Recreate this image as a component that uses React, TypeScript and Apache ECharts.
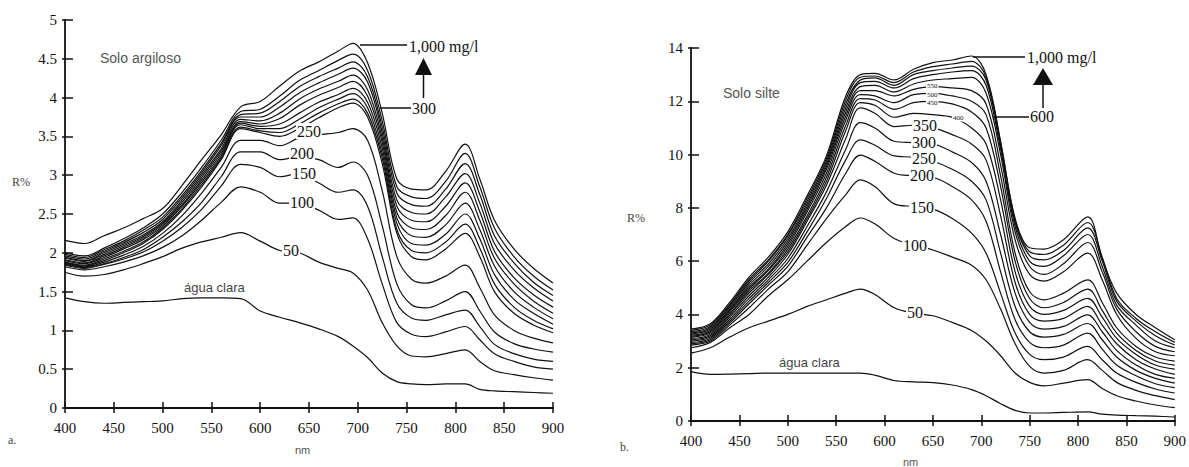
import React, { useEffect, useRef } from "react";
import * as echarts from "echarts";

// ---------- Data: left panel (Solo argiloso) ----------
const WL_LEFT = [400, 420, 440, 460, 480, 500, 520, 540, 560, 580, 600, 620, 640, 660, 680, 695, 710, 725, 740, 755, 770, 790, 810, 825, 840, 860, 880, 900];

const L_AGUA = [1.42, 1.37, 1.35, 1.36, 1.37, 1.38, 1.41, 1.42, 1.42, 1.41, 1.25, 1.17, 1.1, 1.02, 0.92, 0.8, 0.65, 0.45, 0.34, 0.31, 0.3, 0.31, 0.31, 0.24, 0.22, 0.21, 0.2, 0.19];
const L_50 = [1.75, 1.7, 1.72, 1.78, 1.86, 1.95, 2.06, 2.14, 2.2, 2.26, 2.15, 2.03, 2.0, 1.88, 1.8, 1.74, 1.52, 1.1, 0.8, 0.67, 0.66, 0.7, 0.75, 0.6, 0.48, 0.43, 0.39, 0.36];
const L_100 = [1.82, 1.78, 1.82, 1.88, 1.96, 2.07, 2.22, 2.42, 2.65, 2.85, 2.78, 2.64, 2.64, 2.55, 2.43, 2.45, 2.18, 1.6, 1.1, 0.95, 0.92, 0.98, 1.05, 0.88, 0.7, 0.6, 0.53, 0.5];
const L_150 = [1.84, 1.8, 1.85, 1.92, 2.01, 2.15, 2.33, 2.56, 2.86, 3.14, 3.1, 2.98, 3.02, 2.9, 2.78, 2.81, 2.6, 1.95, 1.35, 1.16, 1.13, 1.2, 1.26, 1.05, 0.82, 0.7, 0.63, 0.6];
const L_200 = [1.85, 1.81, 1.86, 1.94, 2.04, 2.2, 2.4, 2.65, 2.98, 3.3, 3.3, 3.2, 3.24, 3.2, 3.1, 3.17, 3.0, 2.35, 1.6, 1.33, 1.29, 1.38, 1.5, 1.25, 0.98, 0.83, 0.76, 0.72];
const L_250 = [1.86, 1.82, 1.88, 1.97, 2.08, 2.25, 2.48, 2.77, 3.1, 3.45, 3.45, 3.38, 3.48, 3.52, 3.55, 3.6, 3.45, 2.8, 1.95, 1.66, 1.61, 1.7, 1.84, 1.55, 1.2, 1.0, 0.9, 0.84];
const L_300 = [1.87, 1.83, 1.9, 2.0, 2.12, 2.3, 2.55, 2.85, 3.2, 3.6, 3.55, 3.5, 3.6, 3.74, 3.87, 3.93, 3.75, 3.15, 2.25, 1.95, 1.91, 2.05, 2.25, 1.95, 1.5, 1.22, 1.07, 0.97];
const L_350 = [1.88, 1.84, 1.92, 2.02, 2.14, 2.32, 2.57, 2.88, 3.22, 3.62, 3.57, 3.55, 3.66, 3.8, 3.92, 3.98, 3.8, 3.22, 2.3, 2.03, 2.0, 2.14, 2.37, 2.06, 1.6, 1.3, 1.13, 1.02];
const L_400 = [1.9, 1.86, 1.94, 2.05, 2.17, 2.34, 2.6, 2.91, 3.25, 3.65, 3.6, 3.6, 3.72, 3.87, 3.98, 4.05, 3.87, 3.28, 2.38, 2.12, 2.1, 2.24, 2.5, 2.18, 1.72, 1.4, 1.22, 1.08];
const L_450 = [1.91, 1.87, 1.96, 2.07, 2.19, 2.36, 2.62, 2.94, 3.28, 3.67, 3.63, 3.66, 3.8, 3.94, 4.04, 4.12, 3.94, 3.35, 2.45, 2.22, 2.2, 2.36, 2.64, 2.3, 1.83, 1.5, 1.3, 1.15];
const L_500 = [1.93, 1.89, 1.98, 2.09, 2.21, 2.38, 2.65, 2.97, 3.31, 3.69, 3.66, 3.73, 3.9, 4.03, 4.13, 4.21, 4.02, 3.42, 2.52, 2.32, 2.3, 2.48, 2.78, 2.42, 1.93, 1.6, 1.38, 1.22];
const L_600 = [1.94, 1.9, 2.0, 2.11, 2.23, 2.4, 2.68, 3.0, 3.34, 3.72, 3.7, 3.8, 3.98, 4.11, 4.21, 4.29, 4.1, 3.48, 2.6, 2.42, 2.4, 2.6, 2.9, 2.53, 2.02, 1.68, 1.46, 1.3];
const L_700 = [1.96, 1.92, 2.02, 2.13, 2.26, 2.43, 2.71, 3.03, 3.38, 3.75, 3.75, 3.88, 4.06, 4.19, 4.3, 4.38, 4.2, 3.55, 2.68, 2.52, 2.5, 2.72, 3.02, 2.64, 2.12, 1.78, 1.55, 1.38];
const L_800 = [1.98, 1.94, 2.04, 2.15, 2.29, 2.46, 2.74, 3.06, 3.41, 3.78, 3.8, 3.95, 4.14, 4.27, 4.38, 4.46, 4.27, 3.62, 2.77, 2.62, 2.6, 2.82, 3.15, 2.75, 2.22, 1.87, 1.62, 1.45];
const L_900 = [2.0, 1.96, 2.06, 2.18, 2.32, 2.5, 2.78, 3.1, 3.45, 3.82, 3.85, 4.02, 4.22, 4.35, 4.48, 4.56, 4.35, 3.7, 2.85, 2.72, 2.7, 2.92, 3.28, 2.85, 2.32, 1.95, 1.7, 1.52];
const L_1000 = [2.16, 2.12, 2.22, 2.32, 2.44, 2.57, 2.87, 3.2, 3.52, 3.88, 3.95, 4.15, 4.34, 4.46, 4.6, 4.7, 4.45, 3.8, 2.95, 2.82, 2.81, 3.05, 3.4, 2.95, 2.42, 2.05, 1.8, 1.61];

const LEFT_SERIES: [string, number[]][] = [
  ["água clara", L_AGUA], ["50", L_50], ["100", L_100], ["150", L_150], ["200", L_200], ["250", L_250],
  ["300", L_300], ["350", L_350], ["400", L_400], ["450", L_450], ["500", L_500], ["600", L_600],
  ["700", L_700], ["800", L_800], ["900", L_900], ["1000", L_1000],
];

// ---------- Data: right panel (Solo silte) ----------
const WL_RIGHT = [400, 420, 440, 460, 480, 500, 520, 540, 560, 575, 590, 610, 630, 650, 670, 690, 705, 720, 735, 750, 765, 785, 810, 825, 840, 860, 880, 900];

const R_AGUA = [1.85, 1.75, 1.76, 1.78, 1.8, 1.8, 1.8, 1.8, 1.8, 1.8, 1.72, 1.52, 1.47, 1.44, 1.35, 1.18, 0.95, 0.65, 0.4, 0.3, 0.3, 0.32, 0.34, 0.26, 0.22, 0.2, 0.18, 0.15];
const R_50 = [2.55, 2.75, 3.15, 3.5, 3.75, 4.0, 4.3, 4.55, 4.8, 4.95, 4.75, 4.25, 4.05, 3.95, 3.7, 3.4, 3.0, 2.45, 1.8, 1.45, 1.32, 1.42, 1.55, 1.22, 0.95, 0.75, 0.6, 0.5];
const R_100 = [2.75, 2.95, 3.5, 4.0, 4.7, 5.3, 6.0, 6.7, 7.3, 7.62, 7.4, 6.85, 6.6, 6.42, 6.15, 5.85, 5.3, 4.2, 2.9, 2.05, 1.8, 1.9, 2.3, 1.9, 1.45, 1.15, 0.95, 0.8];
const R_150 = [2.85, 3.0, 3.6, 4.25, 4.95, 5.6, 6.6, 7.6, 8.5, 9.05, 8.8, 8.15, 8.05, 7.95, 7.6, 7.05, 6.3, 4.8, 3.3, 2.5, 2.3, 2.4, 2.8, 2.3, 1.8, 1.45, 1.2, 1.05];
const R_200 = [2.9, 3.05, 3.68, 4.4, 5.1, 5.8, 6.9, 8.0, 9.3, 9.98, 9.75, 9.3, 9.2, 9.15, 8.8, 8.3, 7.5, 5.6, 3.8, 2.95, 2.75, 2.85, 3.3, 2.7, 2.1, 1.7, 1.4, 1.25];
const R_250 = [2.95, 3.1, 3.75, 4.5, 5.2, 5.95, 7.1, 8.35, 9.8, 10.55, 10.35, 9.95, 9.9, 9.75, 9.45, 9.0, 8.3, 6.3, 4.3, 3.35, 3.15, 3.25, 3.66, 3.05, 2.4, 1.9, 1.6, 1.42];
const R_300 = [3.0, 3.15, 3.82, 4.6, 5.3, 6.1, 7.3, 8.6, 10.2, 11.2, 11.0, 10.5, 10.45, 10.4, 10.1, 9.7, 9.0, 7.0, 4.8, 3.7, 3.45, 3.55, 3.98, 3.35, 2.65, 2.1, 1.75, 1.6];
const R_350 = [3.05, 3.2, 3.9, 4.7, 5.4, 6.25, 7.5, 8.85, 10.6, 11.75, 11.55, 11.05, 11.1, 11.0, 10.75, 10.4, 9.8, 7.7, 5.2, 4.0, 3.75, 3.85, 4.3, 3.6, 2.9, 2.3, 1.95, 1.75];
const R_400 = [3.1, 3.25, 3.97, 4.8, 5.5, 6.35, 7.6, 9.0, 10.9, 11.95, 11.85, 11.4, 11.55, 11.5, 11.4, 11.0, 10.4, 8.3, 5.6, 4.3, 4.0, 4.15, 4.6, 3.9, 3.1, 2.5, 2.1, 1.95];
const R_450 = [3.15, 3.3, 4.03, 4.88, 5.55, 6.45, 7.7, 9.15, 11.1, 12.1, 12.05, 11.7, 11.95, 12.0, 11.9, 11.6, 11.0, 8.8, 6.0, 4.6, 4.25, 4.45, 4.95, 4.15, 3.3, 2.65, 2.25, 2.1];
const R_500 = [3.18, 3.35, 4.1, 4.95, 5.65, 6.55, 7.85, 9.3, 11.3, 12.25, 12.2, 11.95, 12.25, 12.3, 12.2, 12.0, 11.5, 9.2, 6.3, 4.85, 4.55, 4.8, 5.3, 4.45, 3.5, 2.8, 2.4, 2.25];
const R_550 = [3.22, 3.4, 4.15, 5.02, 5.7, 6.65, 7.95, 9.45, 11.45, 12.4, 12.4, 12.2, 12.45, 12.55, 12.5, 12.4, 11.9, 9.6, 6.8, 5.5, 5.25, 5.6, 6.3, 5.3, 4.0, 3.1, 2.6, 2.45];
const R_600 = [3.26, 3.45, 4.2, 5.1, 5.8, 6.75, 8.05, 9.55, 11.6, 12.55, 12.6, 12.35, 12.65, 12.8, 12.85, 12.9, 12.3, 10.0, 7.1, 5.8, 5.5, 5.9, 6.7, 5.6, 4.2, 3.35, 2.8, 2.6];
const R_700 = [3.3, 3.5, 4.27, 5.18, 5.9, 6.85, 8.15, 9.65, 11.75, 12.7, 12.75, 12.5, 12.85, 13.0, 13.1, 13.15, 12.6, 10.2, 7.3, 6.0, 5.8, 6.2, 7.0, 5.8, 4.35, 3.6, 3.0, 2.75];
const R_800 = [3.35, 3.55, 4.33, 5.25, 6.0, 6.95, 8.25, 9.75, 11.9, 12.8, 12.88, 12.6, 13.0, 13.15, 13.25, 13.32, 12.8, 10.35, 7.45, 6.2, 6.05, 6.4, 7.25, 6.0, 4.5, 3.75, 3.2, 2.85];
const R_900 = [3.4, 3.6, 4.38, 5.32, 6.05, 7.0, 8.35, 9.85, 12.05, 12.9, 12.95, 12.7, 13.1, 13.3, 13.4, 13.5, 12.9, 10.45, 7.55, 6.35, 6.25, 6.6, 7.45, 6.15, 4.6, 3.85, 3.35, 2.95];
const R_1000 = [3.45, 3.65, 4.45, 5.4, 6.15, 7.1, 8.45, 9.95, 12.2, 13.0, 13.05, 12.8, 13.2, 13.45, 13.55, 13.7, 13.0, 10.5, 7.6, 6.5, 6.45, 6.8, 7.66, 6.1, 4.8, 4.0, 3.5, 3.05];

const RIGHT_SERIES: [string, number[]][] = [
  ["água clara", R_AGUA], ["50", R_50], ["100", R_100], ["150", R_150], ["200", R_200], ["250", R_250],
  ["300", R_300], ["350", R_350], ["400", R_400], ["450", R_450], ["500", R_500], ["550", R_550],
  ["600", R_600], ["700", R_700], ["800", R_800], ["900", R_900], ["1000", R_1000],
];

const X_TICKS = { min: 400, max: 900, interval: 50 };
const Y_LEFT = { min: 0, max: 5, interval: 0.5 };
const Y_RIGHT = { min: 0, max: 14, interval: 2 };

const SERIF = "Liberation Serif";
const SANS = "Liberation Sans";
const INK = "#111";

function lineSeries(list: [string, number[]][], wl: number[], axis: number) {
  return list.map(([name, vals]) => ({
    type: "line",
    name,
    xAxisIndex: axis,
    yAxisIndex: axis,
    data: wl.map((w, i) => [w, vals[i]]),
    showSymbol: false,
    smooth: 0.35,
    lineStyle: { color: INK, width: 1.2 },
    silent: true,
  }));
}

const AXIS_LABEL_TEXT = {
  color: INK,
  fontFamily: SERIF,
  fontSize: 15,
  formatter: "{s|{value}}",
  rich: { s: { fontFamily: SERIF, fontSize: 15, color: INK } },
};

function xAxes(grid: number, margin: number) {
  const base = { type: "value", gridIndex: grid, position: "bottom", offset: 0, ...X_TICKS, splitLine: { show: false } };
  return [
    {
      ...base,
      axisLine: { lineStyle: { color: INK, width: 2 } },
      axisTick: { inside: true, length: 6, lineStyle: { color: INK, width: 1.5 } },
      axisLabel: { ...AXIS_LABEL_TEXT, margin },
    },
    {
      ...base,
      axisLine: { show: false },
      axisTick: { inside: false, length: 5, lineStyle: { color: INK, width: 1.5 } },
      axisLabel: { show: false },
    },
  ];
}

function yAxes(grid: number, range: any) {
  const base = { type: "value", gridIndex: grid, position: "left", offset: 0, ...range, splitLine: { show: false } };
  return [
    {
      ...base,
      axisLine: { lineStyle: { color: INK, width: 1.8 } },
      axisTick: { inside: true, length: 8, lineStyle: { color: INK, width: 1.5 } },
      axisLabel: { ...AXIS_LABEL_TEXT, margin: 8 },
    },
    {
      ...base,
      axisLine: { show: false },
      axisTick: { inside: false, length: 3, lineStyle: { color: INK, width: 1.5 } },
      axisLabel: { show: false },
    },
  ];
}

function txt(text: string, x: number, y: number, size: number, family: string, color = INK, bg = true) {
  return {
    type: "text",
    x,
    y,
    z: 100,
    style: {
      text,
      fill: color,
      fontSize: size,
      fontFamily: family,
      verticalAlign: "middle",
      align: "left",
      backgroundColor: bg ? "#fff" : "transparent",
      padding: bg ? [0, 1] : 0,
    },
  };
}

function seg(x1: number, y1: number, x2: number, y2: number) {
  return { type: "line", z: 100, shape: { x1, y1, x2, y2 }, style: { stroke: INK, lineWidth: 1.5 } };
}

function tri(cx: number, top: number, half: number, h: number) {
  return {
    type: "polygon",
    z: 100,
    shape: { points: [[cx - half, top + h], [cx + half, top + h], [cx, top]] },
    style: { fill: INK },
  };
}

export default function App() {
  const ref = useRef<HTMLDivElement>(null);

  useEffect(() => {
    if (!ref.current) return;
    const chart = echarts.init(ref.current, undefined, { renderer: "svg" });
    const option: any = {
      animation: false,
      backgroundColor: "#fff",
      textStyle: { fontFamily: SERIF },
      grid: [
        { left: 65, top: 20, width: 488, height: 388 },
        { left: 691, top: 48, width: 485, height: 373 },
      ],
      xAxis: [...xAxes(0, 12), ...xAxes(1, 12)],
      yAxis: [...yAxes(0, Y_LEFT), ...yAxes(1, Y_RIGHT)],
      series: [...lineSeries(LEFT_SERIES, WL_LEFT, 0), ...lineSeries(RIGHT_SERIES, WL_RIGHT, 2)],
      graphic: [
        // left panel annotations
        txt("Solo argiloso", 100, 58, 14, SANS, "#555", false),
        txt("1,000 mg/l", 408, 46, 16, SERIF),
        seg(360, 45, 407, 45),
        tri(423.5, 58, 8.5, 17),
        seg(423.5, 74, 423.5, 98),
        seg(380, 108, 411, 108),
        txt("300", 411, 108, 16, SERIF),
        txt("250", 296, 131, 16, SERIF),
        txt("200", 289, 153, 16, SERIF),
        txt("150", 291, 173, 16, SERIF),
        txt("100", 289, 202, 16, SERIF),
        txt("50", 282, 250, 16, SERIF),
        txt("água clara", 184, 287, 13, SANS, "#444", false),
        txt("R%", 12, 182, 12, SERIF, "#444", false),
        txt("nm", 295, 450, 11, SANS, "#555", false),
        txt("a.", 8, 440, 12, SERIF, "#444", false),
        // right panel annotations
        txt("Solo silte", 723, 93, 14, SANS, "#555", false),
        txt("1,000 mg/l", 1026, 57, 16, SERIF),
        seg(973, 57, 1025, 57),
        tri(1043, 68, 10, 17),
        seg(1043, 84, 1043, 113),
        seg(993, 117, 1029, 117),
        txt("600", 1029, 116, 16, SERIF),
        txt("550", 926, 86, 7, SERIF),
        txt("500", 926, 95, 7, SERIF),
        txt("450", 926, 103, 7, SERIF),
        txt("400", 952, 118, 7, SERIF),
        txt("350", 912, 125, 16, SERIF),
        txt("300", 911, 142, 16, SERIF),
        txt("250", 911, 158, 16, SERIF),
        txt("200", 909, 175, 16, SERIF),
        txt("150", 909, 207, 16, SERIF),
        txt("100", 902, 245, 16, SERIF),
        txt("50", 906, 312, 16, SERIF),
        txt("água clara", 779, 362, 13, SANS, "#444", false),
        txt("R%", 627, 218, 12, SERIF, "#444", false),
        txt("b.", 620, 447, 12, SERIF, "#444", false),
        txt("nm", 903, 462, 11, SANS, "#555", false),
      ],
    };
    chart.setOption(option);
    return () => chart.dispose();
  }, []);

  return (
    <div
      ref={ref}
      style={{ position: "fixed", left: 0, top: 0, width: 1189, height: 467, background: "#fff" }}
    />
  );
}
